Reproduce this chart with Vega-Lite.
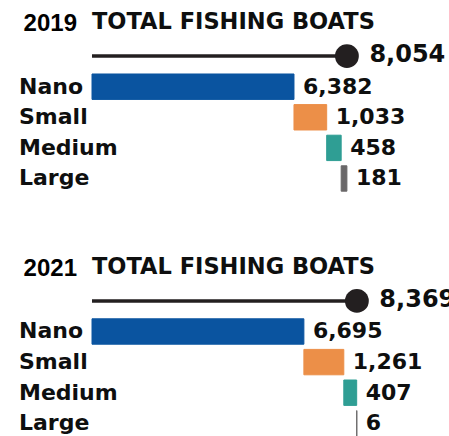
{
  "$schema": "https://vega.github.io/schema/vega-lite/v6.json",
  "autosize": {"type": "none"},
  "padding": {"left": 92, "top": 0, "right": 0, "bottom": 0},
  "width": 357,
  "height": 436,
  "background": "white",
  "config": {"view": {"stroke": null}},
  "datasets": {
    "parts": [
      {"year": "2019", "item": "Nano", "key": "2019 Nano", "value": 6382, "start": 0, "end": 6382},
      {"year": "2019", "item": "Small", "key": "2019 Small", "value": 1033, "start": 6382, "end": 7415},
      {"year": "2019", "item": "Medium", "key": "2019 Medium", "value": 458, "start": 7415, "end": 7873},
      {"year": "2019", "item": "Large", "key": "2019 Large", "value": 181, "start": 7873, "end": 8054},
      {"year": "2021", "item": "Nano", "key": "2021 Nano", "value": 6695, "start": 0, "end": 6695},
      {"year": "2021", "item": "Small", "key": "2021 Small", "value": 1261, "start": 6695, "end": 7956},
      {"year": "2021", "item": "Medium", "key": "2021 Medium", "value": 407, "start": 7956, "end": 8363},
      {"year": "2021", "item": "Large", "key": "2021 Large", "value": 6, "start": 8363, "end": 8369}
    ],
    "totals": [
      {"year": "2019", "key": "2019 total", "total": 8054},
      {"year": "2021", "key": "2021 total", "total": 8369}
    ],
    "headers": [
      {"year": "2019", "key": "2019 header", "label": "TOTAL FISHING BOATS"},
      {"year": "2021", "key": "2021 header", "label": "TOTAL FISHING BOATS"}
    ]
  },
  "encoding": {
    "y": {"field": "key", "type": "nominal", "axis": null,
      "scale": {"type": "band", "round": false, "align": 1, "paddingInner": 0.17, "paddingOuter": 0.209,
        "domain": ["2019 header", "2019 total", "2019 Nano", "2019 Small", "2019 Medium", "2019 Large", "gap a", "gap b", "2021 header", "2021 total", "2021 Nano", "2021 Small", "2021 Medium", "2021 Large"]}}
  },
  "layer": [
    {
      "data": {"name": "parts"},
      "mark": {"type": "bar", "strokeWidth": 1},
      "encoding": {
        "x": {"field": "start", "type": "quantitative", "axis": null, "scale": {"domain": [0, 11280], "nice": false, "zero": true}},
        "x2": {"field": "end"},
        "color": {"field": "item", "type": "nominal", "legend": null, "scale": {"domain": ["Nano", "Small", "Medium", "Large"], "range": ["#0a54a0", "#ec8f48", "#2f9e94", "#6a6869"]}},
        "stroke": {"field": "item", "type": "nominal", "legend": null, "scale": {"domain": ["Nano", "Small", "Medium", "Large"], "range": ["#0a54a0", "#ec8f48", "#2f9e94", "#6a6869"]}}
      }
    },
    {
      "data": {"name": "parts"},
      "mark": {"type": "text", "align": "left", "baseline": "middle", "dx": 9, "font": "DejaVu Sans", "fontWeight": "bold", "fontSize": 22, "color": "#0e0f0f"},
      "encoding": {
        "x": {"field": "end", "type": "quantitative"},
        "text": {"field": "value", "type": "quantitative", "format": ","}
      }
    },
    {
      "data": {"name": "parts"},
      "mark": {"type": "text", "align": "left", "baseline": "middle", "dx": -73, "font": "DejaVu Sans", "fontWeight": "bold", "fontSize": 22, "color": "#0e0f0f"},
      "encoding": {
        "x": {"datum": 0, "type": "quantitative"},
        "text": {"field": "item", "type": "nominal"}
      }
    },
    {
      "data": {"name": "totals"},
      "mark": {"type": "rule", "strokeWidth": 3.5, "color": "#231f20"},
      "encoding": {
        "x": {"field": "total", "type": "quantitative"},
        "x2": {"datum": 0}
      }
    },
    {
      "data": {"name": "totals"},
      "mark": {"type": "point", "filled": true, "opacity": 1, "size": 570, "color": "#231f20"},
      "encoding": {
        "x": {"field": "total", "type": "quantitative"}
      }
    },
    {
      "data": {"name": "totals"},
      "mark": {"type": "text", "align": "left", "baseline": "middle", "dx": 22.5, "dy": -1, "font": "DejaVu Sans", "fontWeight": "bold", "fontSize": 24, "color": "#0e0f0f"},
      "encoding": {
        "x": {"field": "total", "type": "quantitative"},
        "text": {"field": "total", "type": "quantitative", "format": ","}
      }
    },
    {
      "data": {"name": "headers"},
      "mark": {"type": "text", "align": "left", "baseline": "alphabetic", "dy": 4, "font": "DejaVu Sans", "fontWeight": "bold", "fontSize": 22.5, "color": "#0e0f0f"},
      "encoding": {
        "x": {"datum": 0, "type": "quantitative"},
        "text": {"field": "label", "type": "nominal"}
      }
    },
    {
      "data": {"name": "headers"},
      "mark": {"type": "text", "align": "right", "baseline": "alphabetic", "dx": -15, "dy": 5.5, "font": "Liberation Sans", "fontWeight": "bold", "fontSize": 24, "color": "#000000"},
      "encoding": {
        "x": {"datum": 0, "type": "quantitative"},
        "text": {"field": "year", "type": "nominal"}
      }
    }
  ]
}
